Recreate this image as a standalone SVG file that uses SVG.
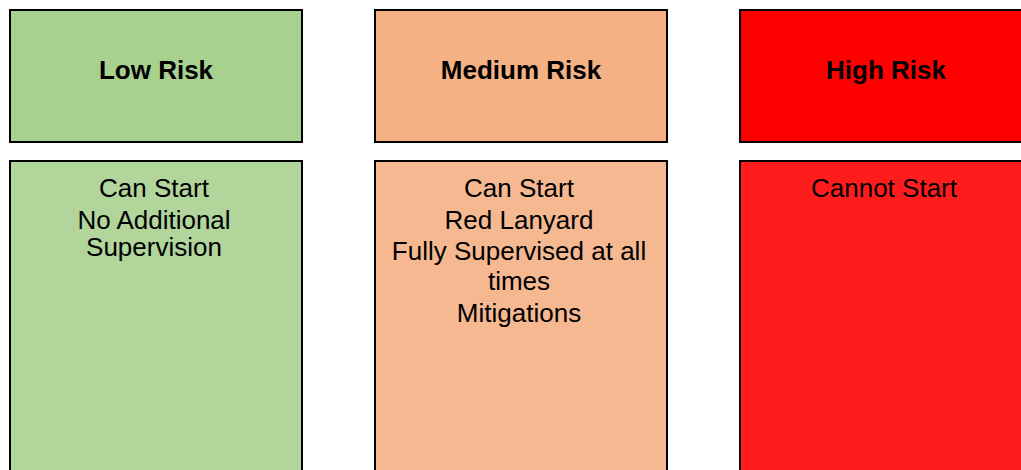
<svg xmlns="http://www.w3.org/2000/svg" width="1021" height="470" viewBox="0 0 1021 470">
<style>
.box{stroke:#000;stroke-width:2}
.title{font-family:"Liberation Sans",Arial,sans-serif;font-weight:bold;font-size:26px;text-anchor:middle;fill:#000}
.body{font-family:"Liberation Sans",Arial,sans-serif;font-size:26px;text-anchor:middle;fill:#000}
</style>
<rect width="1021" height="470" fill="#fff"/>
<g id="low-risk">
<rect class="box" x="10" y="10" width="292" height="132" fill="#a9d18e"/>
<text class="title" x="156" y="79">Low Risk</text>
</g>
<g id="medium-risk">
<rect class="box" x="375" y="10" width="292" height="132" fill="#f4b183"/>
<text class="title" x="521" y="79">Medium Risk</text>
</g>
<g id="high-risk">
<rect class="box" x="740" y="10" width="300" height="132" fill="#ff0000"/>
<text class="title" x="886" y="79">High Risk</text>
</g>
<g id="low-detail">
<rect class="box" x="10" y="161" width="292" height="330" fill="#b1d59b"/>
<text class="body" x="154" y="197">Can Start</text>
<text class="body" x="154" y="229">No Additional<tspan x="154" dy="27">Supervision</tspan></text>
</g>
<g id="medium-detail">
<rect class="box" x="375" y="161" width="292" height="330" fill="#f5b891"/>
<text class="body" x="519" y="197">Can Start</text>
<text class="body" x="519" y="229">Red Lanyard</text>
<text class="body" x="519" y="259.5">Fully Supervised at all<tspan x="519" dy="30">times</tspan></text>
<text class="body" x="519" y="322">Mitigations</text>
</g>
<g id="high-detail">
<rect class="box" x="740" y="161" width="300" height="330" fill="#ff1c1c"/>
<text class="body" x="884" y="197">Cannot Start</text>
</g>
<g id="connectors"/>
</svg>
